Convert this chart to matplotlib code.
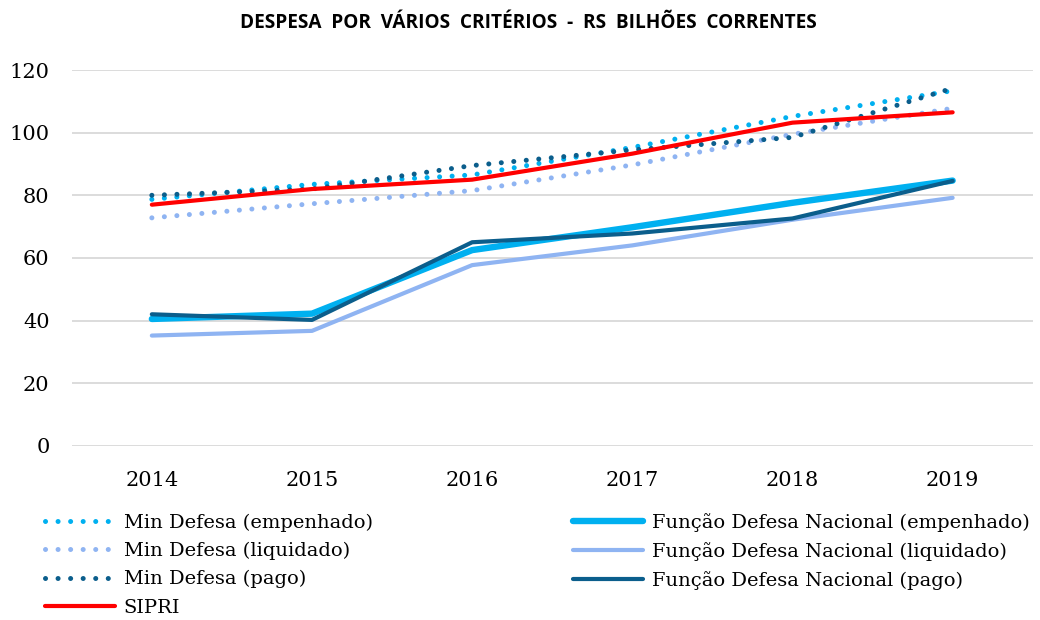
import matplotlib
matplotlib.use("Agg")
import matplotlib.pyplot as plt

years = ["2014", "2015", "2016", "2017", "2018", "2019"]

min_empenhado = [78.7, 83.5, 86.5, 95.3, 105.2, 113.4]
min_liquidado = [72.8, 77.3, 81.5, 89.7, 99.5, 107.8]
min_pago = [80.0, 82.0, 89.5, 94.5, 98.5, 114.2]
fun_empenhado = [40.5, 42.2, 62.5, 69.8, 77.6, 84.7]
fun_liquidado = [35.2, 36.7, 57.7, 64.0, 72.2, 79.2]
fun_pago = [42.0, 40.2, 65.0, 67.8, 72.6, 84.6]
sipri = [77.0, 82.0, 85.0, 93.3, 103.2, 106.5]

yticks = [0, 20, 40, 60, 80, 100, 120]
title = "DESPESA  POR  VÁRIOS  CRITÉRIOS  -  RS  BILHÕES  CORRENTES"

c_light = "#00B0F0"
c_liq = "#8FB4F2"
c_dark = "#0B5E8C"
c_red = "#FF0000"

fig = plt.figure(figsize=(10.4, 6.2), dpi=100)
ax = fig.add_axes([0.069, 0.281, 0.924, 0.606])

x = list(range(len(years)))
dot = (0, (0.01, 2.5))

def dotted(vals, color):
    l, = ax.plot(x, vals, color=color, lw=3.6, linestyle=dot,
                 dash_capstyle="round", solid_capstyle="round")
    return l

h_min_emp = dotted(min_empenhado, c_light)
h_fun_emp, = ax.plot(x, fun_empenhado, color=c_light, lw=4.6, solid_capstyle="round")
h_min_liq = dotted(min_liquidado, c_liq)
h_fun_liq, = ax.plot(x, fun_liquidado, color=c_liq, lw=3.0, solid_capstyle="round")
h_min_pago = dotted(min_pago, c_dark)
h_fun_pago, = ax.plot(x, fun_pago, color=c_dark, lw=3.0, solid_capstyle="round")
h_sipri, = ax.plot(x, sipri, color=c_red, lw=3.0, solid_capstyle="round")

ax.set_xlim(-0.5, len(years) - 0.5)
ax.set_ylim(0, 120)
ax.set_xticks(x)
ax.set_xticklabels(years)
ax.set_yticks(yticks)
ax.grid(axis="y", color="#D9D9D9", lw=1.3)
ax.set_axisbelow(True)
for s in ax.spines.values():
    s.set_visible(False)
ax.tick_params(length=0, labelsize=15)
for lab in ax.get_xticklabels() + ax.get_yticklabels():
    lab.set_family("DejaVu Serif")
ax.tick_params(axis="x", pad=18)
ax.tick_params(axis="y", pad=16)

fig.text(0.508, 0.963, title, ha="center", va="center", fontsize=13.7,
         fontweight="bold", family="Open Sans")

handles = [h_min_emp, h_min_liq, h_min_pago, h_sipri, h_fun_emp, h_fun_liq, h_fun_pago]
labels = ["Min Defesa (empenhado)", "Min Defesa (liquidado)", "Min Defesa (pago)", "SIPRI",
          "Função Defesa Nacional (empenhado)", "Função Defesa Nacional (liquidado)",
          "Função Defesa Nacional (pago)"]
leg = fig.legend(handles, labels, ncol=2, loc="upper left",
                 bbox_to_anchor=(0.043, 0.173), frameon=False,
                 prop={"family": "DejaVu Serif", "size": 14},
                 handlelength=3.6, handletextpad=0.46, columnspacing=10.3,
                 labelspacing=0.52, borderaxespad=0, borderpad=0)

fig.savefig("out.png", dpi=100)
